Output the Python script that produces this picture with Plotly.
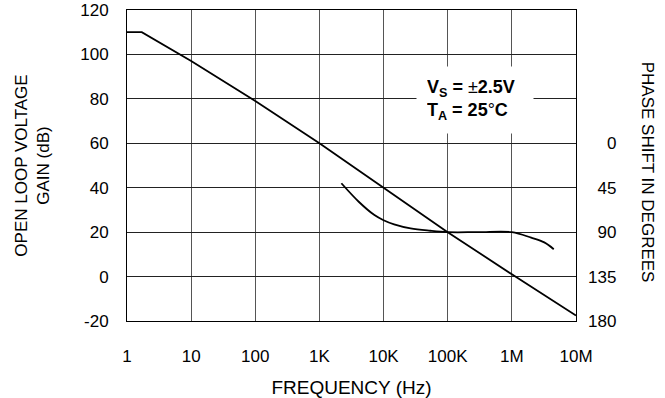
import plotly.graph_objects as go

# Open loop gain (dB) vs frequency (Hz)
gain_freq = [1, 1.7, 10, 100, 1e3, 1e4, 1e5, 1e6, 1e7]
gain_db = [110, 110, 97, 79, 60, 40, 20, 1, -17.5]

# Phase shift (degrees) vs frequency (Hz)
phase_freq = [2.2e3, 4.1e3, 7.2e3, 1e4, 1.46e4, 2.64e4, 5.36e4, 1e5, 3e5, 1e6, 2.0e6, 3.2e6, 4.5e6]
phase_deg = [40.5, 59.2, 72.7, 77.9, 82.1, 86.2, 88.6, 90, 90, 90, 95.6, 100.4, 107.3]

# Tick labels
x_tickvals = [1, 10, 100, 1e3, 1e4, 1e5, 1e6, 1e7]
x_ticktext = ["1", "10", "100", "1K", "10K", "100K", "1M", "10M"]
gain_tickvals = [-20, 0, 20, 40, 60, 80, 100, 120]
gain_ticktext = ["-20", "0", "20", "40", "60", "80", "100", "120"]
phase_tickvals = [0, 45, 90, 135, 180]
phase_ticktext = ["\u2007\u20070", "\u200745", "\u200790", "135", "180"]

FONT = "Liberation Sans, Arial, sans-serif"

fig = go.Figure()
fig.add_trace(go.Scatter(x=gain_freq, y=gain_db, mode="lines",
                         line=dict(color="black", width=1.8), yaxis="y", showlegend=False))
fig.add_trace(go.Scatter(x=phase_freq, y=phase_deg, mode="lines", line_shape="spline",
                         line=dict(color="black", width=1.8), yaxis="y2", showlegend=False))

fig.update_layout(
    width=665, height=398,
    margin=dict(l=127, r=89, t=10, b=77, autoexpand=False),
    paper_bgcolor="white", plot_bgcolor="white",
    font=dict(family=FONT, size=17, color="black"),
    xaxis=dict(type="log", range=[0, 7], tickvals=x_tickvals, ticktext=x_ticktext,
               showgrid=True, gridcolor="#555555", gridwidth=1,
               showline=True, linecolor="black", linewidth=1, mirror=True,
               ticks="", ticklabelstandoff=20, automargin=False,
               title=dict(text="FREQUENCY (Hz)", font=dict(size=19), standoff=27),
               zeroline=False),
    yaxis=dict(range=[-20, 120], tickvals=gain_tickvals, ticktext=gain_ticktext,
               showgrid=True, gridcolor="#222222", gridwidth=1,
               showline=True, linecolor="black", linewidth=1, mirror=True,
               ticks="", ticklabelstandoff=14, zeroline=False, automargin=False,
               title=dict(text="OPEN LOOP VOLTAGE<br>GAIN (dB)", font=dict(size=17), standoff=26)),
    yaxis2=dict(range=[180, -135], overlaying="y", side="right", anchor="x",
                tickvals=phase_tickvals, ticktext=phase_ticktext, automargin=False,
                showgrid=False, zeroline=False, showline=False, ticks="",
                ticklabelstandoff=11),
)

fig.add_annotation(text="PHASE SHIFT IN DEGREES", xref="paper", yref="paper",
                   x=1.158, y=0.477, textangle=90, showarrow=False,
                   font=dict(size=17), xanchor="center", yanchor="middle")

fig.add_annotation(text="<b>V<sub>S</sub> = </b>\u00b1<b>2.5V<br>T<sub>A</sub> = 25</b>\u00b0<b>C</b>",
                   xref="paper", yref="paper", x=0.775, y=0.71, showarrow=False,
                   align="left", bgcolor="white", borderpad=10, width=96, height=46,
                   font=dict(size=18), xanchor="center", yanchor="middle")

fig.write_html("out.html", config={"displayModeBar": False},
               post_script="document.body.style.margin='0';")
